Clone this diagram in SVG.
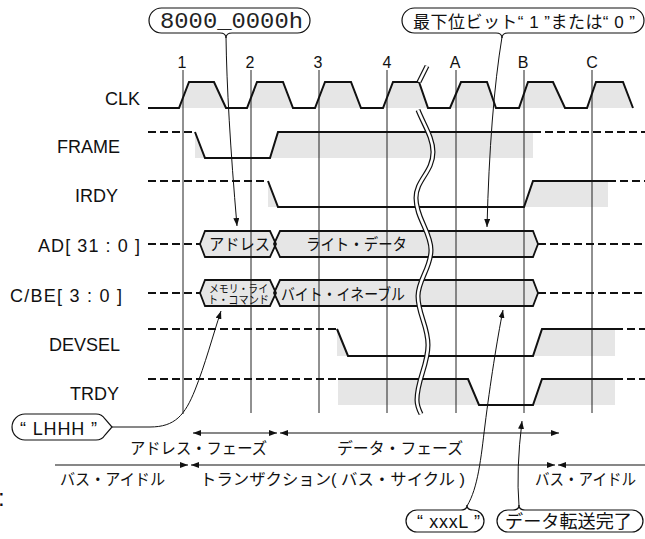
<svg xmlns="http://www.w3.org/2000/svg" width="645" height="539" viewBox="0 0 645 539">
<defs>
<style>
.t{font-family:"Liberation Sans","Noto Sans CJK JP",sans-serif;fill:#111}
.lbl{font-size:18px}
.num{font-size:16px;text-anchor:middle}
.jp{font-size:16px}
.g{fill:#e6e6e6;stroke:none}
.sig{fill:none;stroke:#111;stroke-width:2;stroke-linejoin:miter}
.dash{fill:none;stroke:#111;stroke-width:2;stroke-dasharray:8 4}
.hex{fill:none;stroke:#111;stroke-width:1.8;stroke-linejoin:miter}
.vl{stroke:#222;stroke-width:1;fill:none}
.lead{fill:none;stroke:#111;stroke-width:1}
.ph{fill:none;stroke:#111;stroke-width:1.2}
.bub{fill:#fff;stroke:#111;stroke-width:1.2}
.wo{fill:none;stroke:#111;stroke-width:5}
.wi{fill:none;stroke:#fff;stroke-width:2.6}
.mono{font-family:"Liberation Mono",monospace;font-size:22px;fill:#222}
</style>
<marker id="ah" markerWidth="8" markerHeight="6" refX="8" refY="3" orient="auto-start-reverse" markerUnits="userSpaceOnUse">
<path d="M0,0 L8,3 L0,6 Z" fill="#111"/>
</marker>
</defs>
<rect width="645" height="539" fill="#fff"/>

<!-- gray fills -->
<g id="fills">
<path class="g" d="M179,108 L189,82 L214,82 L226,108 Z M247,108 L257,82 L283,82 L293,108 Z M315,108 L325,82 L351,82 L361,108 Z M383,108 L393,82 L419,82 L428,108 Z M450,108 L461,82 L487,82 L496,108 Z M519,108 L528,82 L553,82 L565,108 Z M587,108 L596,82 L623,82 L633,108 Z"/>
<path class="g" d="M195,132 L205,158 L195,158 Z M270,158 L278,132 L533,132 L533,158 Z"/>
<path class="g" d="M268,181 L278,207 L268,207 Z M524,207 L533,181 L608,181 L608,207 Z"/>
<path class="g" d="M337,329 L348,356 L337,356 Z M533,356 L542,329 L615,329 L615,356 Z"/>
<path class="g" d="M338,379 L468,379 L479,405 L338,405 Z M533,405 L542,379 L615,379 L615,405 Z"/>
<path class="g" d="M200,244 L205,231 L270,231 L276,244 L270,257 L205,257 Z M274,244 L280,231 L533,231 L538,244 L533,257 L280,257 Z"/>
<path class="g" d="M200,293 L205,280 L270,280 L276,293 L270,306 L205,306 Z M274,293 L280,280 L533,280 L538,293 L533,306 L280,306 Z"/>
</g>

<!-- clock reference lines -->
<g id="clock-lines">
<line class="vl" x1="183" y1="70" x2="183" y2="414"/>
<line class="vl" x1="251" y1="70" x2="251" y2="413"/>
<line class="vl" x1="319" y1="70" x2="319" y2="413"/>
<line class="vl" x1="387" y1="70" x2="387" y2="413"/>
<line class="vl" x1="456" y1="70" x2="456" y2="413"/>
<line class="vl" x1="524" y1="70" x2="524" y2="413"/>
<line class="vl" x1="592" y1="70" x2="592" y2="413"/>
<text class="t num" x="182" y="68">1</text>
<text class="t num" x="250" y="68">2</text>
<text class="t num" x="318" y="68">3</text>
<text class="t num" x="387" y="68">4</text>
<text class="t num" x="455" y="68">A</text>
<text class="t num" x="523" y="68">B</text>
<text class="t num" x="592" y="68">C</text>
</g>

<g id="sig-clk">
<text class="t lbl" x="140" y="105" text-anchor="end">CLK</text>
<path class="sig" d="M148,108 L179,108 L189,82 L214,82 L226,108 L247,108 L257,82 L283,82 L293,108 L315,108 L325,82 L351,82 L361,108 L383,108 L393,82 L419,82 L428,108 L450,108 L461,82 L487,82 L496,108 L519,108 L528,82 L553,82 L565,108 L587,108 L596,82 L623,82 L633,108"/>
</g>

<g id="sig-frame">
<text class="t lbl" x="120" y="153" text-anchor="end">FRAME</text>
<path class="dash" d="M148,132 L195,132"/>
<path class="sig" d="M195,132 L205,158 L270,158 L278,132 L533,132"/>
<path class="dash" d="M533,132 L645,132"/>
</g>

<g id="sig-irdy">
<text class="t lbl" x="118" y="202" text-anchor="end">IRDY</text>
<path class="dash" d="M148,181 L268,181"/>
<path class="sig" d="M268,181 L278,207 L524,207 L533,181 L608,181"/>
<path class="dash" d="M608,181 L645,181"/>
</g>

<g id="sig-ad">
<text class="t lbl" x="38" y="251.5" textLength="102" lengthAdjust="spacing">AD[ 31 : 0 ]</text>
<path class="dash" d="M148,244 L200,244"/>
<path class="hex" d="M200,244 L205,231 L270,231 L276,244 L270,257 L205,257 Z"/>
<path class="hex" d="M274,244 L280,231 L533,231 L538,244 L533,257 L280,257 Z"/>
<path class="dash" d="M538,244 L645,244"/>
<text class="t jp" x="209" y="250" textLength="61" lengthAdjust="spacingAndGlyphs">アドレス</text>
<text class="t jp" x="306" y="250" textLength="101" lengthAdjust="spacingAndGlyphs">ライト・データ</text>
</g>

<g id="sig-cbe">
<text class="t lbl" x="10" y="301.5" textLength="112" lengthAdjust="spacing">C/BE[ 3 : 0 ]</text>
<path class="dash" d="M148,293 L200,293"/>
<path class="hex" d="M200,293 L205,280 L270,280 L276,293 L270,306 L205,306 Z"/>
<path class="hex" d="M274,293 L280,280 L533,280 L538,293 L533,306 L280,306 Z"/>
<path class="dash" d="M538,293 L645,293"/>
<text class="t" style="font-size:11px" x="209" y="292.5" textLength="59" lengthAdjust="spacingAndGlyphs">メモリ・ライ</text>
<text class="t" style="font-size:11px" x="208" y="303.5" textLength="61" lengthAdjust="spacingAndGlyphs">ト・コマンド</text>
<text class="t jp" x="281" y="299.5" textLength="124" lengthAdjust="spacingAndGlyphs">バイト・イネーブル</text>
</g>

<g id="sig-devsel">
<text class="t lbl" x="120" y="350.5" text-anchor="end">DEVSEL</text>
<path class="dash" d="M148,329 L337,329"/>
<path class="sig" d="M337,329 L348,356 L533,356 L542,329 L615,329"/>
<path class="dash" d="M615,329 L645,329"/>
</g>

<g id="sig-trdy">
<text class="t lbl" x="119" y="399.5" text-anchor="end">TRDY</text>
<path class="dash" d="M148,379 L338,379"/>
<path class="sig" d="M338,379 L468,379 L479,405 L533,405 L542,379 L615,379"/>
<path class="dash" d="M615,379 L645,379"/>
</g>

<!-- time break -->
<g id="break">
<path class="wo" d="M427,66 L419,82"/>
<path class="wi" d="M427,66 L419,82"/>
<path class="wo" d="M418,110 C424,125 433,138 433,152 C433,172 416,180 416,198 C416,218 431,232 431,250 C431,268 418,280 418,296 C418,314 428,326 428,345 C428,365 417,380 417,400 C417,406 419,410 421,414"/>
<path class="wi" d="M418,110 C424,125 433,138 433,152 C433,172 416,180 416,198 C416,218 431,232 431,250 C431,268 418,280 418,296 C418,314 428,326 428,345 C428,365 417,380 417,400 C417,406 419,410 421,414"/>
</g>

<!-- phases -->
<g id="phases">
<path class="ph" d="M193,433 L277,433" marker-start="url(#ah)" marker-end="url(#ah)"/>
<path class="ph" d="M280,433 L559,433" marker-start="url(#ah)" marker-end="url(#ah)"/>
<path class="ph" d="M55,465 L188,465" marker-end="url(#ah)"/>
<path class="ph" d="M191,465 L555,465" marker-start="url(#ah)" marker-end="url(#ah)"/>
<path class="ph" d="M558,465 L645,465" marker-start="url(#ah)"/>
<text class="t jp" x="130" y="453.5" textLength="137" lengthAdjust="spacingAndGlyphs">アドレス・フェーズ</text>
<text class="t jp" x="337" y="453.5" textLength="126" lengthAdjust="spacingAndGlyphs">データ・フェーズ</text>
<text class="t jp" x="60" y="485" textLength="105" lengthAdjust="spacingAndGlyphs">バス・アイドル</text>
<text class="t jp" x="200" y="485" textLength="265" lengthAdjust="spacingAndGlyphs">トランザクション( バス・サイクル )</text>
<text class="t jp" x="535" y="485" textLength="101" lengthAdjust="spacingAndGlyphs">バス・アイドル</text>
<text class="t" style="font-size:24px" x="-2" y="506">:</text>
</g>

<!-- connectors (callout leaders) -->
<g id="connectors">
<path class="lead" d="M226,37 Q227,110 237,226" marker-end="url(#ah)"/>
<path class="lead" d="M502,37 Q490,110 487,227" marker-end="url(#ah)"/>
<path class="lead" d="M112,427 L150,427 C175,427 185,415 195,390 C205,365 213,335 221,311" marker-end="url(#ah)"/>
<path class="lead" d="M467,506 C478,488 481,458 485,425 C490,385 497,340 503,310" marker-end="url(#ah)"/>
<path class="lead" d="M519,506 Q516,470 522,421" marker-end="url(#ah)"/>
</g>

<g id="callout-addr">
<path class="bub" d="M161.5,8 L297.5,8 A12.5,12.5 0 0 1 297.5,33 L232,33 Q226,33 226,38 Q226,33 220,33 L161.5,33 A12.5,12.5 0 0 1 161.5,8 Z"/>
<text class="mono" x="160" y="28" textLength="143" lengthAdjust="spacingAndGlyphs">8000_0000h</text>
</g>

<g id="callout-lsb">
<path class="bub" d="M414.5,8 L631.5,8 A12.5,12.5 0 0 1 631.5,33 L508,33 Q502,33 502,38 Q502,33 496,33 L414.5,33 A12.5,12.5 0 0 1 414.5,8 Z"/>
<text class="t" style="font-size:17px" x="413" y="28" textLength="222" lengthAdjust="spacing">最下位ビット“ 1 ”または“ 0 ”</text>
</g>

<g id="callout-lhhh">
<path class="bub" d="M25,414 L96,414 Q102,414 105,419 L112,427 L105,435 Q102,440 96,440 L25,440 A13,13 0 0 1 25,414 Z"/>
<text class="t" style="font-size:18px" x="20" y="435" textLength="77" lengthAdjust="spacing">“ LHHH ”</text>
</g>

<g id="callout-xxxl">
<path class="bub" d="M417,510 L461,510 Q467,510 467,505 Q467,510 473,510 A11,11 0 0 1 473,532 L417,532 A11,11 0 0 1 417,510 Z"/>
<text class="t" style="font-size:18px" x="417" y="528" textLength="63" lengthAdjust="spacing">“ xxxL ”</text>
</g>

<g id="callout-done">
<path class="bub" d="M508,510 L513,510 Q519,510 519,505 Q519,510 525,510 L632,510 A11,11 0 0 1 632,532 L508,532 A11,11 0 0 1 508,510 Z"/>
<text class="t" style="font-size:18px" x="505" y="528" textLength="127" lengthAdjust="spacingAndGlyphs">データ転送完了</text>
</g>
</svg>
